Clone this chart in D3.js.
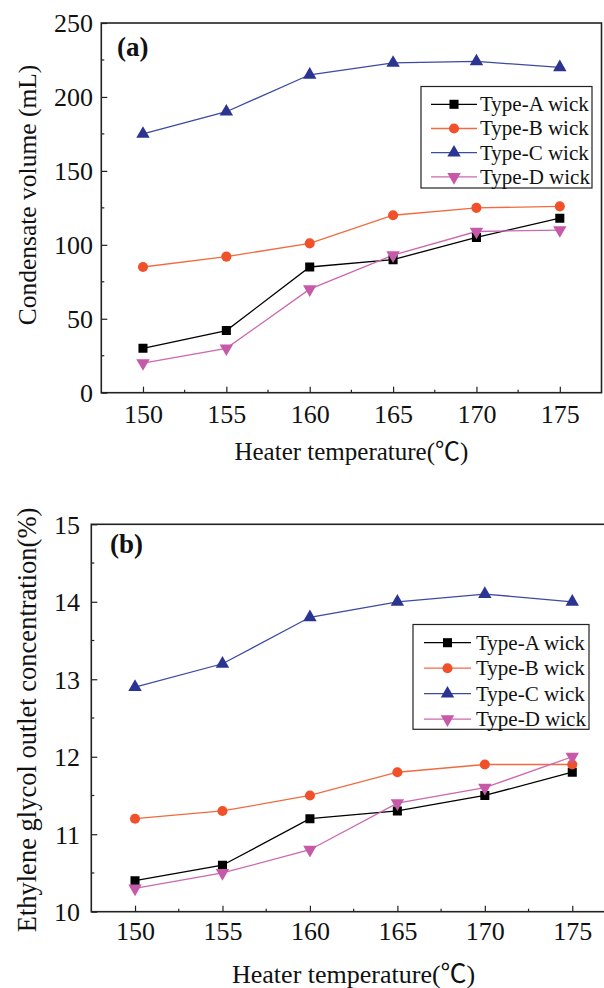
<!DOCTYPE html>
<html>
<head>
<meta charset="utf-8">
<script src="https://cdn.jsdelivr.net/npm/d3@7"></script>
<style>
  html, body { margin: 0; padding: 0; background: #fff; }
  svg { display: block; }
  text { font-family: "Liberation Serif", "Times New Roman", "Noto Sans CJK SC", serif; fill: #111; }
</style>
</head>
<body>
<svg id="fig" width="604" height="988"></svg>
<script>
// Heater temperatures (°C) shared by both panels
const temps = [150, 155, 160, 165, 170, 175];
const tempTicks = [150, 155, 160, 165, 170, 175];

const seriesNames = ["Type-A wick", "Type-B wick", "Type-C wick", "Type-D wick"];

// Panel (a): condensate volume (mL)
const volA = [30, 42, 85, 90, 105, 118];
const volB = [85, 92, 101, 120, 125, 126];
const volC = [175, 190, 215, 223, 224, 220];
const volD = [20, 30, 70, 93, 109, 110];
const volTicks = [0, 50, 100, 150, 200, 250];

// Panel (b): ethylene glycol outlet concentration (%)
const concA = [10.4, 10.6, 11.2, 11.3, 11.5, 11.8];
const concB = [11.2, 11.3, 11.5, 11.8, 11.9, 11.9];
const concC = [12.9, 13.2, 13.8, 14.0, 14.1, 14.0];
const concD = [10.3, 10.5, 10.8, 11.4, 11.6, 12.0];
const concTicks = [10, 11, 12, 13, 14, 15];

// Series styling: marker colour, line colour, symbol
const styles = [
  { fill: "#000000", line: "#000000", sym: d3.symbolSquare, size: 82, rot: 0 },
  { fill: "#f0502a", line: "#f26a40", sym: d3.symbolCircle, size: 80, rot: 0 },
  { fill: "#2b3490", line: "#3d4aa2", sym: d3.symbolTriangle, size: 78, rot: 0 },
  { fill: "#c65aa8", line: "#cc68b0", sym: d3.symbolTriangle, size: 78, rot: 180 }
];

const svg = d3.select("#fig");

function drawPanel(cfg) {
  const g = svg.append("g");
  const x = d3.scaleLinear().domain([147.5, 177.5]).range([cfg.left, cfg.right]);
  const y = d3.scaleLinear().domain(cfg.yDomain).range([cfg.bottom, cfg.top]);

  const clipId = "clip-" + cfg.tag;
  svg.append("clipPath").attr("id", clipId)
    .append("rect").attr("x", cfg.left).attr("y", cfg.top - 20)
    .attr("width", cfg.right - cfg.left).attr("height", cfg.bottom - cfg.top + 40);

  // Minor ticks (inward)
  const xMinor = d3.range(152.5, 177.5, 5);
  g.selectAll(".xminor").data(xMinor).join("line")
    .attr("x1", d => x(d)).attr("x2", d => x(d))
    .attr("y1", cfg.bottom).attr("y2", cfg.bottom - 3)
    .attr("stroke", "#222").attr("stroke-width", 1.2);
  const yStep = cfg.yTicks[1] - cfg.yTicks[0];
  const yMinor = cfg.yTicks.slice(0, -1).map(v => v + yStep / 2);
  g.selectAll(".yminor").data(yMinor).join("line")
    .attr("x1", cfg.left).attr("x2", cfg.left + 3)
    .attr("y1", d => y(d)).attr("y2", d => y(d))
    .attr("stroke", "#222").attr("stroke-width", 1.2);

  // Major ticks and labels via d3 axes
  const xAxis = d3.axisBottom(x).tickValues(tempTicks).tickFormat(d3.format("d"))
    .tickSizeInner(-6).tickSizeOuter(0);
  const gx = g.append("g").attr("transform", `translate(0,${cfg.bottom})`).call(xAxis);
  gx.select(".domain").remove();
  gx.selectAll(".tick line").attr("stroke", "#222").attr("stroke-width", 1.2);
  gx.selectAll(".tick text").attr("font-size", 26)
    .attr("fill", "#111").attr("dy", 0).attr("y", cfg.xLabelDy);

  const yAxis = d3.axisLeft(y).tickValues(cfg.yTicks).tickFormat(d3.format("d"))
    .tickSizeInner(-6).tickSizeOuter(0);
  const gy = g.append("g").attr("transform", `translate(${cfg.left},0)`).call(yAxis);
  gy.select(".domain").remove();
  gy.selectAll(".tick line").attr("stroke", "#222").attr("stroke-width", 1.2);
  gy.selectAll(".tick text").attr("font-size", 26)
    .attr("fill", "#111").attr("x", cfg.yLabelX - cfg.left).attr("dy", "0.34em");

  // Frame
  g.append("rect")
    .attr("x", cfg.left).attr("y", cfg.top)
    .attr("width", cfg.right - cfg.left).attr("height", cfg.bottom - cfg.top)
    .attr("fill", "none").attr("stroke", "#222").attr("stroke-width", 1.6);

  // Series lines and markers
  const line = d3.line().x(d => x(d[0])).y(d => y(d[1]));
  const plot = g.append("g").attr("clip-path", `url(#${clipId})`);
  cfg.series.forEach((vals, i) => {
    const st = styles[i];
    const pts = temps.map((t, k) => [t, vals[k]]);
    plot.append("path").datum(pts).attr("d", line)
      .attr("fill", "none").attr("stroke", st.line).attr("stroke-width", 1.3);
  });
  cfg.series.forEach((vals, i) => {
    const st = styles[i];
    const pts = temps.map((t, k) => [t, vals[k]]);
    plot.selectAll(null).data(pts).join("path")
      .attr("d", d3.symbol().type(st.sym).size(st.size))
      .attr("transform", d => `translate(${x(d[0])},${y(d[1])}) rotate(${st.rot})`)
      .attr("fill", st.fill);
  });

  // Legend
  const L = cfg.legend;
  g.append("rect").attr("x", L.x0).attr("y", L.y0)
    .attr("width", L.x1 - L.x0).attr("height", L.y1 - L.y0)
    .attr("fill", "#fff").attr("stroke", "#222").attr("stroke-width", 1.2);
  seriesNames.forEach((name, i) => {
    const st = styles[i];
    const yy = L.row0 + i * L.rowStep;
    g.append("line").attr("x1", L.lineX0).attr("x2", L.lineX1)
      .attr("y1", yy).attr("y2", yy).attr("stroke", st.line).attr("stroke-width", 1.3);
    g.append("path").attr("d", d3.symbol().type(st.sym).size(st.size)())
      .attr("transform", `translate(${(L.lineX0 + L.lineX1) / 2},${yy}) rotate(${st.rot})`)
      .attr("fill", st.fill);
    g.append("text").attr("x", L.textX).attr("y", yy).attr("dy", "0.33em")
      .attr("font-size", 21).text(name);
  });

  // Panel tag
  g.append("text").attr("x", cfg.tagX).attr("y", cfg.tagY)
    .attr("font-size", 27).attr("font-weight", "bold").text(cfg.tagText);

  // Axis titles
  g.append("text").attr("x", (cfg.left + cfg.right) / 2).attr("y", cfg.xTitleY)
    .attr("text-anchor", "middle").attr("font-size", cfg.xTitleSize).text("Heater temperature(℃)");
  g.append("text")
    .attr("transform", `translate(${cfg.yTitleX},${cfg.yTitleCY}) rotate(-90)`)
    .attr("text-anchor", "middle").attr("dy", "0.35em")
    .attr("font-size", cfg.yTitleSize).text(cfg.yTitle);
}

drawPanel({
  tag: "a", tagText: "(a)", tagX: 117, tagY: 56,
  left: 101.3, right: 601.5, top: 23, bottom: 392.7,
  yDomain: [0, 250], yTicks: volTicks, yLabelX: 93,
  xLabelDy: 30,
  series: [volA, volB, volC, volD],
  legend: { x0: 421, x1: 592, y0: 86.5, y1: 188, row0: 104.3, rowStep: 24.2, lineX0: 431, lineX1: 477, textX: 480 },
  xTitleY: 460, xTitleSize: 25,
  yTitle: "Condensate volume (mL)", yTitleX: 27, yTitleCY: 195, yTitleSize: 25.5
});

drawPanel({
  tag: "b", tagText: "(b)", tagX: 110, tagY: 553,
  left: 91.3, right: 616, top: 524.3, bottom: 911.7,
  yDomain: [10, 15], yTicks: concTicks, yLabelX: 80,
  xLabelDy: 28,
  series: [concA, concB, concC, concD],
  legend: { x0: 413, x1: 589, y0: 624.5, y1: 729.3, row0: 642.7, rowStep: 25.5, lineX0: 424, lineX1: 471, textX: 476 },
  xTitleY: 983, xTitleSize: 26,
  yTitle: "Ethylene glycol outlet concentration(%)", yTitleX: 27, yTitleCY: 720, yTitleSize: 26.5
});
</script>
</body>
</html>
